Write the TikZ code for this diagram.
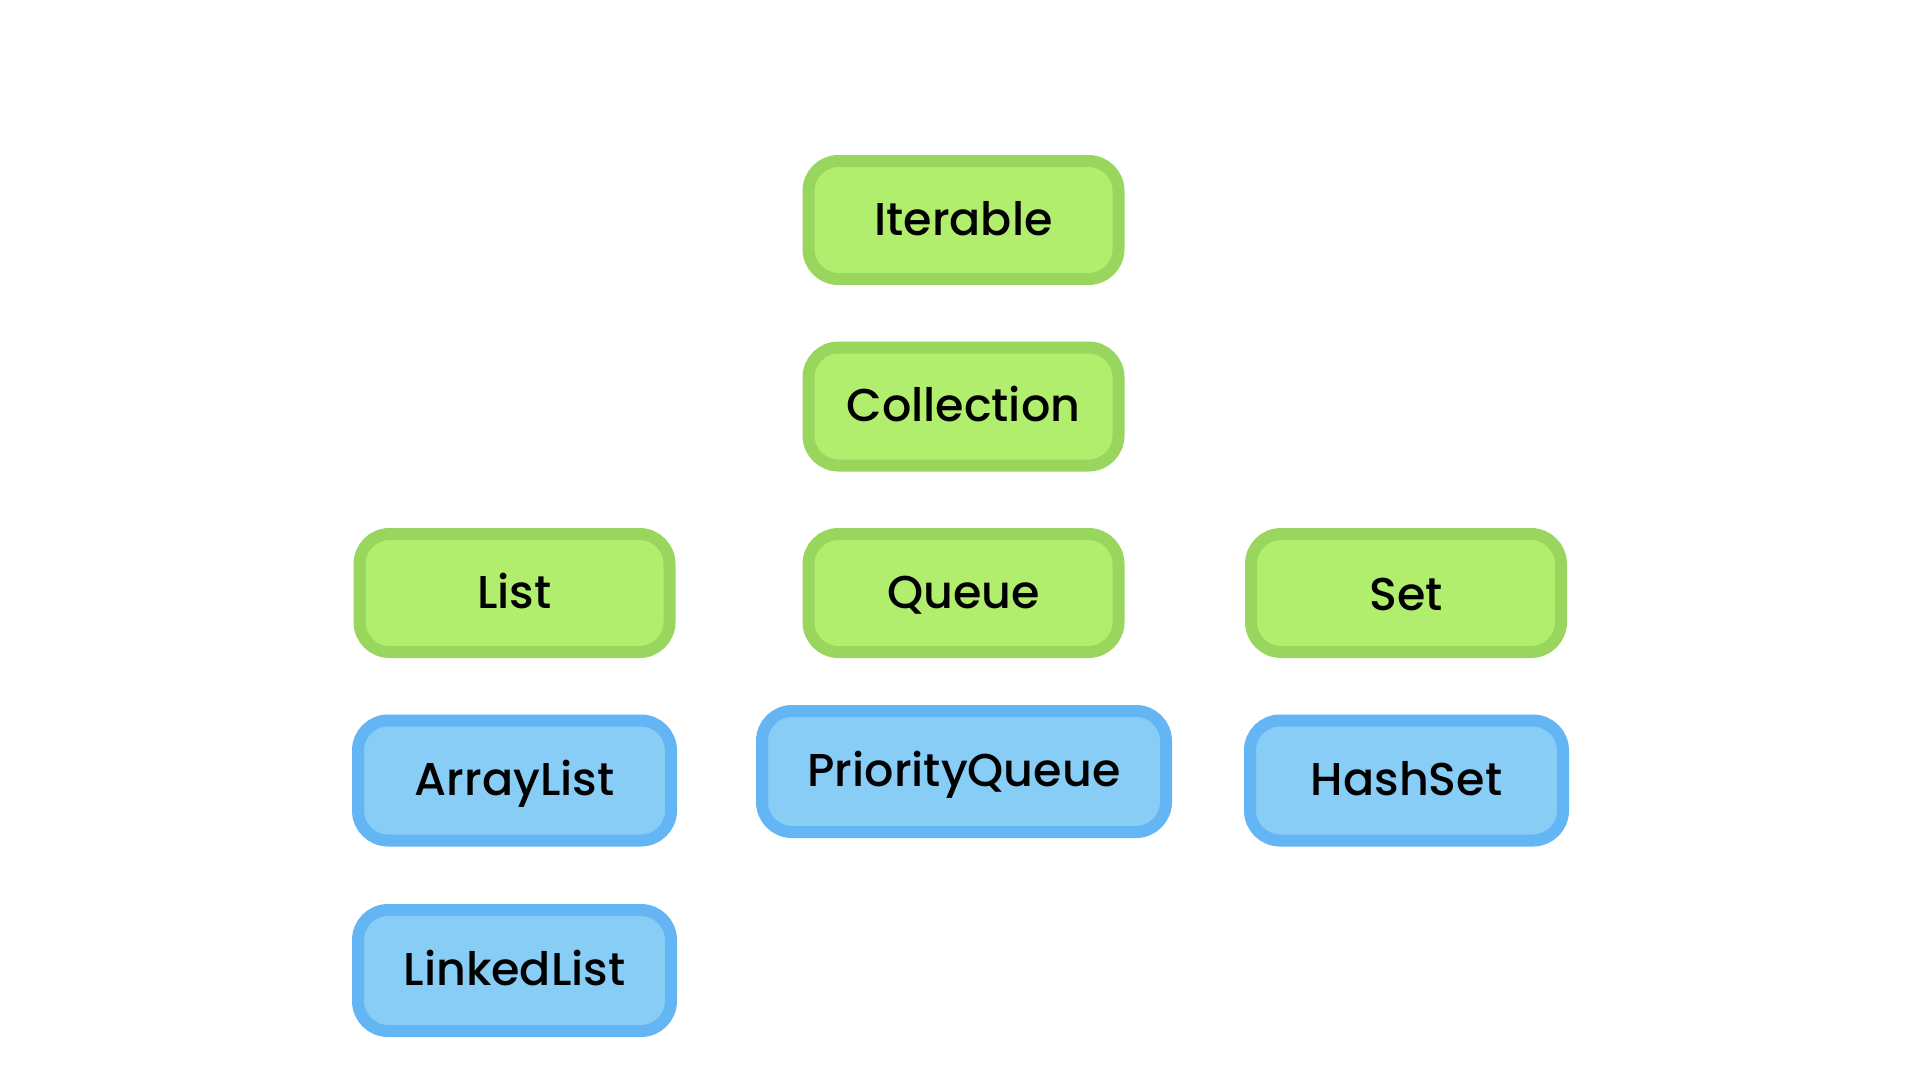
\documentclass[tikz,border=0pt]{standalone}
\usepackage{fontspec}
\setmainfont{Poppins}[UprightFont=* Medium]
\definecolor{gfill}{HTML}{B2EE6E}
\definecolor{gline}{HTML}{98D65E}
\definecolor{bfill}{HTML}{88CDF6}
\definecolor{bline}{HTML}{64B5F4}
\begin{document}
\begin{tikzpicture}[x=1pt,y=-1pt,
  box/.style={draw,line width=12pt,rounded corners=30pt,inner sep=0pt,
    font=\fontsize{46}{50}\selectfont,text=black,text height=34pt,text depth=4pt},
  iface/.style={box,fill=gfill,draw=gline,minimum width=310pt,minimum height=118pt},
  cls/.style={box,fill=bfill,draw=bline,minimum width=313pt,minimum height=120pt}]
\useasboundingbox[fill=white] (0,0) rectangle (1920,1080);
\node[iface] (iterable) at (963.5,220) {Iterable};
\node[iface] (collection) at (963.5,406.5) {Collection};
\node[iface] (list) at (514.5,593) {List};
\node[iface] (queue) at (963.5,593) {Queue};
\node[iface] (set) at (1406,593) {\raisebox{-2pt}{Set}};
\node[cls] (arraylist) at (514.5,780.5) {ArrayList};
\node[cls,minimum width=404pt,minimum height=121pt] (pqueue) at (964,771.5) {PriorityQueue};
\node[cls] (hashset) at (1406.5,780.5) {HashSet};
\node[cls,minimum height=121pt] (linkedlist) at (514.5,970.5) {LinkedList};
\end{tikzpicture}
\end{document}
